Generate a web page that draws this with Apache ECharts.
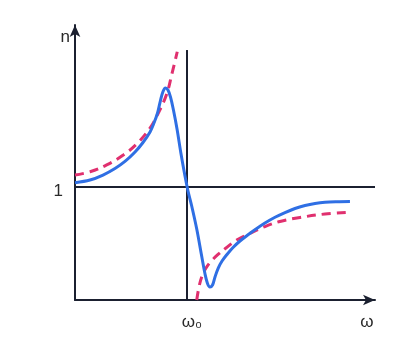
<!DOCTYPE html>
<html><head><meta charset="utf-8">
<script src="https://cdn.jsdelivr.net/npm/echarts@6/dist/echarts.min.js"></script>
<style>html,body{margin:0;padding:0;background:#fff}#c{width:400px;height:350px}</style>
</head><body><div id="c"></div>
<script>
// x = ω/ω0 , y = n
const blueX = [0,0.134,0.250,0.357,0.446,0.536,0.607,0.670,0.705,0.737,0.763,0.786,0.808,0.830,0.853,0.879,0.911,0.946,0.982,1.009,1.042,1.087,1.131,1.161,1.183,1.205,1.228,1.250,1.279,1.313,1.357,1.411,1.473,1.545,1.616,1.696,1.786,1.875,1.964,2.054,2.143,2.232,2.339,2.455];
const blueY = [1.038,1.062,1.106,1.164,1.226,1.310,1.394,1.487,1.566,1.655,1.765,1.845,1.876,1.858,1.796,1.681,1.513,1.296,1.097,0.965,0.832,0.628,0.389,0.230,0.146,0.115,0.133,0.204,0.283,0.345,0.403,0.465,0.522,0.577,0.628,0.681,0.732,0.774,0.810,0.836,0.854,0.865,0.870,0.872];
const redLeftX = [0,0.134,0.283,0.431,0.551,0.670,0.744,0.819,0.863,0.913];
const redLeftY = [1.106,1.135,1.195,1.283,1.381,1.522,1.655,1.823,1.991,2.197];
const redRightX = [1.087,1.107,1.134,1.170,1.214,1.277,1.348,1.444,1.563,1.696,1.830,2.009,2.232,2.438];
const redRightY = [0,0.115,0.212,0.283,0.341,0.403,0.460,0.531,0.590,0.650,0.695,0.730,0.761,0.776];
const xTickValues = [1, 2.607];
const xTickLabels = ['ω₀', 'ω'];
const yTickValues = [1, 2.327];
const yTickLabels = ['1', 'n'];
const omega0 = 1, nOne = 1;
const xMax = 2.6786, yMax = 2.4336, vLineTop = 2.212;

const zip = (a, b) => a.map((v, i) => [v, b[i]]);
const axisColor = '#1b2030';
const labelFont = { color: '#2a2a2a', fontSize: 17, fontFamily: 'Liberation Sans' };
const chart = echarts.init(document.getElementById('c'));
chart.setOption({
  animation: false,
  grid: { left: 75, right: 25, top: 25, bottom: 50 },
  xAxis: {
    type: 'value', min: 0, max: xMax,
    splitLine: { show: false },
    axisTick: { show: false },
    axisLine: { lineStyle: { color: axisColor, width: 2 }, symbol: ['none', 'arrow'], symbolSize: [8, 12] },
    axisLabel: Object.assign({
      customValues: xTickValues, margin: 14,
      formatter: v => {
        const i = xTickValues.indexOf(v);
        return i === 0 ? '{w0|' + xTickLabels[0] + '}' : (xTickLabels[i] || '');
      },
      rich: { w0: Object.assign({ padding: [0, 0, 0, 10] }, labelFont) }
    }, labelFont)
  },
  yAxis: {
    type: 'value', min: 0, max: yMax,
    splitLine: { show: false },
    axisTick: { show: false },
    axisLine: { lineStyle: { color: axisColor, width: 2 }, symbol: ['none', 'arrow'], symbolSize: [8, 12] },
    axisLabel: Object.assign({
      customValues: yTickValues, margin: 5,
      formatter: v => {
        const i = yTickValues.indexOf(v);
        return i === 0 ? '{one|' + yTickLabels[0] + '}' : '{nn|' + (yTickLabels[i] || '') + '}';
      },
      rich: {
        one: Object.assign({ padding: [9, 7, 0, 0] }, labelFont),
        nn: Object.assign({ padding: [0, 0, 0, 0] }, labelFont)
      }
    }, labelFont)
  },
  series: [
    { type: 'line', data: [[0, nOne], [xMax, nOne]], symbol: 'none', lineStyle: { color: axisColor, width: 2 }, z: 1 },
    { type: 'line', data: [[omega0, 0], [omega0, vLineTop]], symbol: 'none', lineStyle: { color: axisColor, width: 2 }, z: 1 },
    { type: 'line', data: zip(redLeftX, redLeftY), symbol: 'none', smooth: 0.4, lineStyle: { color: '#e0306f', width: 3, type: [9, 6] }, z: 2 },
    { type: 'line', data: zip(redRightX, redRightY), symbol: 'none', smooth: 0.4, lineStyle: { color: '#e0306f', width: 3, type: [9, 6] }, z: 2 },
    { type: 'line', data: zip(blueX, blueY), symbol: 'none', smooth: 0.35, lineStyle: { color: '#2f6fe4', width: 3 }, z: 3 }
  ]
});
</script></body></html>
